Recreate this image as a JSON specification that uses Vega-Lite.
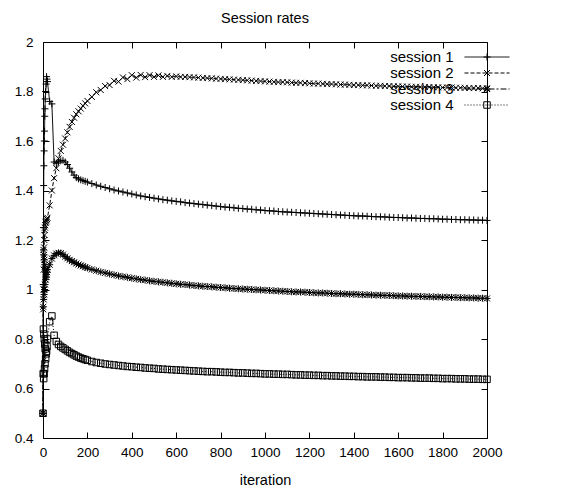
{
  "$schema": "https://vega.github.io/schema/vega-lite/v6.json",
  "width": 444,
  "height": 396,
  "autosize": {"type": "none"},
  "padding": {"left": 43, "top": 42, "right": 81, "bottom": 51},
  "background": "white",
  "title": {"text": "Session rates", "fontSize": 14.5, "fontWeight": "normal", "font": "Liberation Sans", "color": "black", "baseline": "alphabetic", "offset": -2, "anchor": "middle"},
  "data": {"values": [
    {"i":0,"s1":0.5,"s2":0.5,"s3":0.5,"s4":0.5},
    {"i":1,"s1":1.02,"s2":0.92,"s3":0.93,"s4":0.66},
    {"i":2,"s1":1.25,"s2":1.0,"s3":1.16,"s4":0.84},
    {"i":3,"s1":1.42,"s2":1.08,"s3":0.96,"s4":0.64},
    {"i":4,"s1":1.5,"s2":1.13,"s3":1.14,"s4":0.82},
    {"i":5,"s1":1.56,"s2":1.17,"s3":0.98,"s4":0.66},
    {"i":6,"s1":1.6,"s2":1.2,"s3":1.12,"s4":0.8},
    {"i":7,"s1":1.64,"s2":1.22,"s3":1.0,"s4":0.68},
    {"i":8,"s1":1.7,"s2":1.24,"s3":1.1,"s4":0.78},
    {"i":9,"s1":1.73,"s2":1.25,"s3":1.02,"s4":0.7},
    {"i":10,"s1":1.77,"s2":1.26,"s3":1.08,"s4":0.76},
    {"i":12,"s1":1.8,"s2":1.27,"s3":1.04,"s4":0.72},
    {"i":14,"s1":1.83,"s2":1.275,"s3":1.06,"s4":0.74},
    {"i":16,"s1":1.86,"s2":1.28,"s3":1.05,"s4":0.75},
    {"i":18,"s1":1.85,"s2":1.285,"s3":1.07,"s4":0.77},
    {"i":20,"s1":1.84,"s2":1.29,"s3":1.08,"s4":0.8},
    {"i":30,"s1":1.76,"s2":1.34,"s3":1.1,"s4":0.87},
    {"i":40,"s1":1.75,"s2":1.4,"s3":1.125,"s4":0.893},
    {"i":50,"s1":1.515,"s2":1.45,"s3":1.138,"s4":0.815},
    {"i":60,"s1":1.51,"s2":1.49,"s3":1.145,"s4":0.79},
    {"i":70,"s1":1.515,"s2":1.53,"s3":1.148,"s4":0.778},
    {"i":80,"s1":1.52,"s2":1.56,"s3":1.147,"s4":0.77},
    {"i":90,"s1":1.522,"s2":1.585,"s3":1.141,"s4":0.764},
    {"i":100,"s1":1.515,"s2":1.61,"s3":1.133,"s4":0.758},
    {"i":110,"s1":1.505,"s2":1.635,"s3":1.126,"s4":0.752},
    {"i":120,"s1":1.49,"s2":1.657,"s3":1.12,"s4":0.746},
    {"i":130,"s1":1.475,"s2":1.677,"s3":1.115,"s4":0.741},
    {"i":140,"s1":1.462,"s2":1.694,"s3":1.11,"s4":0.736},
    {"i":150,"s1":1.452,"s2":1.708,"s3":1.105,"s4":0.731},
    {"i":160,"s1":1.447,"s2":1.72,"s3":1.101,"s4":0.727},
    {"i":170,"s1":1.443,"s2":1.731,"s3":1.097,"s4":0.723},
    {"i":180,"s1":1.44,"s2":1.742,"s3":1.094,"s4":0.72},
    {"i":190,"s1":1.437,"s2":1.752,"s3":1.09,"s4":0.717},
    {"i":200,"s1":1.434,"s2":1.762,"s3":1.087,"s4":0.714},
    {"i":220,"s1":1.428,"s2":1.778,"s3":1.081,"s4":0.709},
    {"i":240,"s1":1.422,"s2":1.797,"s3":1.076,"s4":0.705},
    {"i":260,"s1":1.417,"s2":1.806,"s3":1.071,"s4":0.702},
    {"i":280,"s1":1.412,"s2":1.822,"s3":1.067,"s4":0.699},
    {"i":300,"s1":1.407,"s2":1.826,"s3":1.063,"s4":0.697},
    {"i":320,"s1":1.402,"s2":1.843,"s3":1.059,"s4":0.695},
    {"i":340,"s1":1.398,"s2":1.84,"s3":1.055,"s4":0.693},
    {"i":360,"s1":1.394,"s2":1.857,"s3":1.052,"s4":0.691},
    {"i":380,"s1":1.39,"s2":1.85,"s3":1.049,"s4":0.689},
    {"i":400,"s1":1.386,"s2":1.866,"s3":1.046,"s4":0.688},
    {"i":420,"s1":1.382,"s2":1.856,"s3":1.043,"s4":0.686},
    {"i":440,"s1":1.378,"s2":1.867,"s3":1.04,"s4":0.685},
    {"i":460,"s1":1.375,"s2":1.858,"s3":1.038,"s4":0.683},
    {"i":480,"s1":1.372,"s2":1.866,"s3":1.035,"s4":0.682},
    {"i":500,"s1":1.369,"s2":1.859,"s3":1.033,"s4":0.681},
    {"i":520,"s1":1.366,"s2":1.865,"s3":1.031,"s4":0.679},
    {"i":540,"s1":1.363,"s2":1.859,"s3":1.029,"s4":0.678},
    {"i":560,"s1":1.361,"s2":1.863,"s3":1.027,"s4":0.677},
    {"i":580,"s1":1.358,"s2":1.859,"s3":1.025,"s4":0.676},
    {"i":600,"s1":1.356,"s2":1.861,"s3":1.023,"s4":0.675},
    {"i":620,"s1":1.354,"s2":1.859,"s3":1.021,"s4":0.674},
    {"i":640,"s1":1.351,"s2":1.859,"s3":1.02,"s4":0.673},
    {"i":660,"s1":1.349,"s2":1.858,"s3":1.018,"s4":0.672},
    {"i":680,"s1":1.347,"s2":1.857,"s3":1.016,"s4":0.671},
    {"i":700,"s1":1.345,"s2":1.856,"s3":1.015,"s4":0.67},
    {"i":720,"s1":1.343,"s2":1.855,"s3":1.013,"s4":0.669},
    {"i":740,"s1":1.341,"s2":1.854,"s3":1.012,"s4":0.668},
    {"i":760,"s1":1.339,"s2":1.853,"s3":1.011,"s4":0.668},
    {"i":780,"s1":1.337,"s2":1.852,"s3":1.009,"s4":0.667},
    {"i":800,"s1":1.335,"s2":1.851,"s3":1.008,"s4":0.666},
    {"i":820,"s1":1.333,"s2":1.85,"s3":1.007,"s4":0.665},
    {"i":840,"s1":1.332,"s2":1.849,"s3":1.005,"s4":0.665},
    {"i":860,"s1":1.33,"s2":1.848,"s3":1.004,"s4":0.664},
    {"i":880,"s1":1.328,"s2":1.847,"s3":1.003,"s4":0.663},
    {"i":900,"s1":1.327,"s2":1.846,"s3":1.002,"s4":0.663},
    {"i":920,"s1":1.325,"s2":1.845,"s3":1.001,"s4":0.662},
    {"i":940,"s1":1.324,"s2":1.844,"s3":1.0,"s4":0.661},
    {"i":960,"s1":1.322,"s2":1.843,"s3":0.999,"s4":0.661},
    {"i":980,"s1":1.321,"s2":1.842,"s3":0.998,"s4":0.66},
    {"i":1000,"s1":1.319,"s2":1.841,"s3":0.997,"s4":0.659},
    {"i":1020,"s1":1.318,"s2":1.84,"s3":0.996,"s4":0.659},
    {"i":1040,"s1":1.317,"s2":1.839,"s3":0.995,"s4":0.658},
    {"i":1060,"s1":1.315,"s2":1.838,"s3":0.994,"s4":0.658},
    {"i":1080,"s1":1.314,"s2":1.838,"s3":0.993,"s4":0.657},
    {"i":1100,"s1":1.313,"s2":1.837,"s3":0.992,"s4":0.657},
    {"i":1120,"s1":1.312,"s2":1.836,"s3":0.991,"s4":0.656},
    {"i":1140,"s1":1.311,"s2":1.835,"s3":0.99,"s4":0.655},
    {"i":1160,"s1":1.31,"s2":1.835,"s3":0.99,"s4":0.655},
    {"i":1180,"s1":1.309,"s2":1.834,"s3":0.989,"s4":0.654},
    {"i":1200,"s1":1.308,"s2":1.833,"s3":0.988,"s4":0.654},
    {"i":1220,"s1":1.307,"s2":1.832,"s3":0.987,"s4":0.653},
    {"i":1240,"s1":1.306,"s2":1.832,"s3":0.986,"s4":0.653},
    {"i":1260,"s1":1.305,"s2":1.831,"s3":0.986,"s4":0.652},
    {"i":1280,"s1":1.304,"s2":1.83,"s3":0.985,"s4":0.652},
    {"i":1300,"s1":1.303,"s2":1.83,"s3":0.984,"s4":0.651},
    {"i":1320,"s1":1.302,"s2":1.829,"s3":0.983,"s4":0.651},
    {"i":1340,"s1":1.301,"s2":1.828,"s3":0.983,"s4":0.65},
    {"i":1360,"s1":1.3,"s2":1.828,"s3":0.982,"s4":0.65},
    {"i":1380,"s1":1.299,"s2":1.827,"s3":0.981,"s4":0.649},
    {"i":1400,"s1":1.298,"s2":1.826,"s3":0.981,"s4":0.649},
    {"i":1420,"s1":1.297,"s2":1.826,"s3":0.98,"s4":0.648},
    {"i":1440,"s1":1.297,"s2":1.825,"s3":0.979,"s4":0.648},
    {"i":1460,"s1":1.296,"s2":1.825,"s3":0.979,"s4":0.647},
    {"i":1480,"s1":1.295,"s2":1.824,"s3":0.978,"s4":0.647},
    {"i":1500,"s1":1.294,"s2":1.823,"s3":0.977,"s4":0.647},
    {"i":1520,"s1":1.294,"s2":1.823,"s3":0.977,"s4":0.646},
    {"i":1540,"s1":1.293,"s2":1.822,"s3":0.976,"s4":0.646},
    {"i":1560,"s1":1.292,"s2":1.822,"s3":0.976,"s4":0.645},
    {"i":1580,"s1":1.291,"s2":1.821,"s3":0.975,"s4":0.645},
    {"i":1600,"s1":1.291,"s2":1.821,"s3":0.974,"s4":0.644},
    {"i":1620,"s1":1.29,"s2":1.82,"s3":0.974,"s4":0.644},
    {"i":1640,"s1":1.289,"s2":1.82,"s3":0.973,"s4":0.644},
    {"i":1660,"s1":1.289,"s2":1.819,"s3":0.973,"s4":0.643},
    {"i":1680,"s1":1.288,"s2":1.819,"s3":0.972,"s4":0.643},
    {"i":1700,"s1":1.287,"s2":1.818,"s3":0.972,"s4":0.642},
    {"i":1720,"s1":1.287,"s2":1.818,"s3":0.971,"s4":0.642},
    {"i":1740,"s1":1.286,"s2":1.818,"s3":0.971,"s4":0.642},
    {"i":1760,"s1":1.286,"s2":1.817,"s3":0.97,"s4":0.641},
    {"i":1780,"s1":1.285,"s2":1.817,"s3":0.97,"s4":0.641},
    {"i":1800,"s1":1.284,"s2":1.816,"s3":0.969,"s4":0.64},
    {"i":1820,"s1":1.284,"s2":1.816,"s3":0.969,"s4":0.64},
    {"i":1840,"s1":1.283,"s2":1.816,"s3":0.968,"s4":0.64},
    {"i":1860,"s1":1.283,"s2":1.815,"s3":0.968,"s4":0.639},
    {"i":1880,"s1":1.282,"s2":1.815,"s3":0.967,"s4":0.639},
    {"i":1900,"s1":1.282,"s2":1.815,"s3":0.967,"s4":0.639},
    {"i":1920,"s1":1.281,"s2":1.814,"s3":0.966,"s4":0.638},
    {"i":1940,"s1":1.281,"s2":1.814,"s3":0.966,"s4":0.638},
    {"i":1960,"s1":1.28,"s2":1.814,"s3":0.965,"s4":0.638},
    {"i":1980,"s1":1.28,"s2":1.813,"s3":0.965,"s4":0.637},
    {"i":2000,"s1":1.279,"s2":1.813,"s3":0.964,"s4":0.637}
  ]},
  "transform": [{"fold": ["s1", "s2", "s3", "s4"], "as": ["session", "rate"]}],
  "layer": [
    {
      "mark": {"type": "line", "color": "black", "strokeWidth": 1},
      "encoding": {
        "x": {"field": "i", "type": "quantitative", "scale": {"domain": [0, 2000], "nice": false},
              "axis": {"orient": "bottom", "title": "iteration", "format": "d", "values": [0,200,400,600,800,1000,1200,1400,1600,1800,2000],
                       "tickSize": -6, "labelPadding": 13, "domain": false, "grid": false, "labelFlush": false, "labelOverlap": false,
                       "titlePadding": 26, "titleBaseline": "alphabetic"}},
        "y": {"field": "rate", "type": "quantitative", "scale": {"domain": [0.4, 2], "nice": false, "zero": false},
              "axis": {"orient": "left", "title": null, "format": "~g", "values": [0.4,0.6,0.8,1,1.2,1.4,1.6,1.8,2],
                       "tickSize": -6, "labelPadding": 16, "domain": false, "grid": false, "labelFlush": false, "labelOverlap": false}},
        "strokeDash": {"field": "session", "type": "nominal",
                       "scale": {"range": [[1, 0], [4, 2], [6, 2, 2, 2], [1, 2]]},
                       "legend": {"orient": "none", "legendX": 436.5, "legendY": 7.5, "title": null, "padding": 0,
                                  "symbolType": "M-4.5,0H4.5", "symbolSize": 100, "symbolStrokeColor": "black", "symbolStrokeWidth": 1,
                                  "labelAlign": "right", "labelOffset": -41, "rowPadding": 0,
                                  "labelExpr": "replace(datum.label, 's', 'session ')"}}
      }
    },
    {
      "mark": {"type": "point", "filled": false, "color": "black", "strokeWidth": 1, "size": 100, "opacity": 1},
      "encoding": {
        "x": {"field": "i", "type": "quantitative", "scale": {"domain": [0, 2000], "nice": false},
              "axis": {"orient": "top", "title": null, "labels": false, "values": [0,200,400,600,800,1000,1200,1400,1600,1800,2000],
                       "tickSize": -6, "domain": false, "grid": false}},
        "y": {"field": "rate", "type": "quantitative", "scale": {"domain": [0.4, 2], "nice": false, "zero": false},
              "axis": {"orient": "right", "title": null, "labels": false, "values": [0.4,0.6,0.8,1,1.2,1.4,1.6,1.8,2],
                       "tickSize": -6, "domain": false, "grid": false}},
        "shape": {"field": "session", "type": "nominal",
                  "scale": {"domain": ["s1", "s2", "s3", "s4"],
                            "range": ["M-0.7,0H0.7M0,-0.7V0.7", "M-0.6,-0.6L0.6,0.6M-0.6,0.6L0.6,-0.6", "M-0.7,0H0.7M0,-0.7V0.7M-0.6,-0.6L0.6,0.6M-0.6,0.6L0.6,-0.6", "M-0.65,-0.65H0.65V0.65H-0.65Z"]},
                  "legend": {"orient": "none", "legendX": 436.5, "legendY": 7.5, "title": null, "padding": 0,
                             "symbolSize": 100, "symbolStrokeColor": "black", "symbolStrokeWidth": 1, "symbolFillColor": "transparent",
                             "labelAlign": "right", "labelOffset": -41, "rowPadding": 0, "labelOpacity": 0,
                             "labelExpr": "replace(datum.label, 's', 'session ')"}}
      }
    }
  ],
  "resolve": {"axis": {"x": "independent", "y": "independent"}},
  "config": {
    "font": "Liberation Sans",
    "view": {"stroke": "black", "strokeWidth": 1},
    "axis": {"labelFont": "Liberation Sans", "labelFontSize": 13.5, "labelColor": "black", "tickColor": "black", "tickWidth": 1,
             "titleFont": "Liberation Sans", "titleFontSize": 14.5, "titleFontWeight": "normal", "titleColor": "black"},
    "legend": {"labelFont": "Liberation Sans", "labelFontSize": 15, "labelColor": "black"}
  }
}
